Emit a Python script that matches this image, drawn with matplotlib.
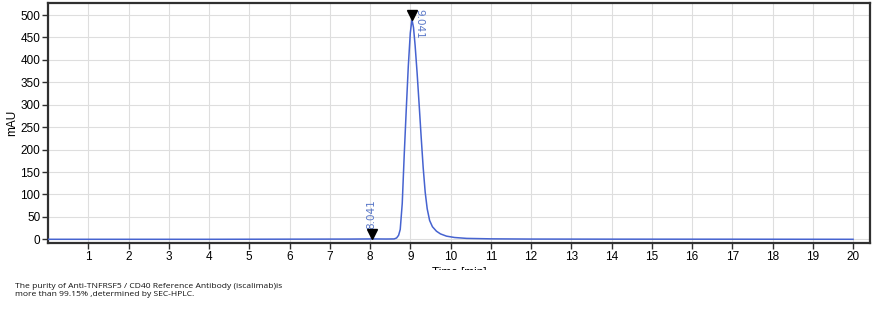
import matplotlib
matplotlib.use("Agg")
import matplotlib.pyplot as plt
from matplotlib.patches import Rectangle
from matplotlib.transforms import offset_copy

# chromatogram (time in min, signal in mAU)
time_min = [0.0, 2.0, 4.0, 6.0, 7.5, 8.0, 8.041, 8.1, 8.4, 8.6, 8.66, 8.71,
            8.75, 8.80, 8.85, 8.90, 8.95, 9.00, 9.041, 9.08, 9.12, 9.17,
            9.22, 9.27, 9.32, 9.37, 9.42, 9.48, 9.55, 9.65, 9.75, 9.90,
            10.1, 10.4, 11.0, 12.0, 14.0, 17.0, 20.0]
signal_mau = [0.0, 0.0, 0.0, 0.3, 0.5, 0.8, 1.0, 0.8, 0.6, 0.8, 3.0, 9.0,
              22.0, 80.0, 190.0, 290.0, 385.0, 460.0, 490.0, 472.0, 432.0, 370.0,
              300.0, 228.0, 160.0, 105.0, 68.0, 42.0, 28.0, 18.0, 12.0, 7.0,
              4.0, 2.0, 1.0, 0.5, 0.3, 0.2, 0.0]

peak_times = [8.041, 9.041]
peak_heights = [1.0, 490.0]
peak_labels = ["8.041", "9.041"]

x_ticks = list(range(1, 21))
y_ticks = list(range(0, 501, 50))

line_blue = "#4663d0"
label_blue = "#5a78c8"

fig = plt.figure(figsize=(8.81, 3.11), dpi=100)
ax = fig.add_axes([0.0545, 0.2186, 0.933, 0.772])

ax.plot(time_min, signal_mau, color=line_blue, lw=1.1, zorder=3)

# peak markers (tip resting on the trace) and retention-time labels
tip_shift = offset_copy(ax.transData, fig=fig, x=0, y=3.2, units="points")
ax.plot(peak_times, peak_heights, marker="v", ls="none", color="black",
        ms=6.5, zorder=4, transform=tip_shift)
ax.text(peak_times[0], peak_heights[0] + 22, peak_labels[0], rotation=90,
        ha="center", va="bottom", color=label_blue, fontsize=7.5,
        family="DejaVu Sans")
ax.text(peak_times[1] + 0.07, peak_heights[1] + 24, peak_labels[1], rotation=270,
        ha="left", va="top", color=label_blue, fontsize=7.5,
        family="DejaVu Sans")

ax.set_xlim(0, 20.42)
ax.set_ylim(-8.3, 527)
ax.set_xticks(x_ticks)
ax.set_yticks(y_ticks)
ax.grid(True, color="#dedede", lw=0.8)
ax.set_axisbelow(True)

for side in ["left", "bottom", "top", "right"]:
    ax.spines[side].set_linewidth(1.6)
    ax.spines[side].set_color("#303030")

ax.tick_params(direction="out", length=4, width=1, color="#303030",
               labelsize=8.5, pad=1.5)
for lab in ax.get_xticklabels() + ax.get_yticklabels():
    lab.set_family("Liberation Sans")

ax.set_ylabel("mAU", fontsize=8.5, family="Liberation Sans", labelpad=2)
ax.set_xlabel("Time [min]", fontsize=8.5, family="Liberation Sans", labelpad=3)

# the reference cuts the lower part of the x label
fig.patches.append(Rectangle((0, 0.102), 1, 0.03, transform=fig.transFigure,
                             facecolor="white", edgecolor="none", zorder=10))

fig.text(0.017, 0.066, "The purity of Anti-TNFRSF5 / CD40 Reference Antibody (iscalimab)is\n"
         "more than 99.15% ,determined by SEC-HPLC.",
         fontsize=6.1, family="Open Sans", va="center", ha="left",
         linespacing=1.15, color="#111111", zorder=11)

fig.savefig("out.png", dpi=100)
